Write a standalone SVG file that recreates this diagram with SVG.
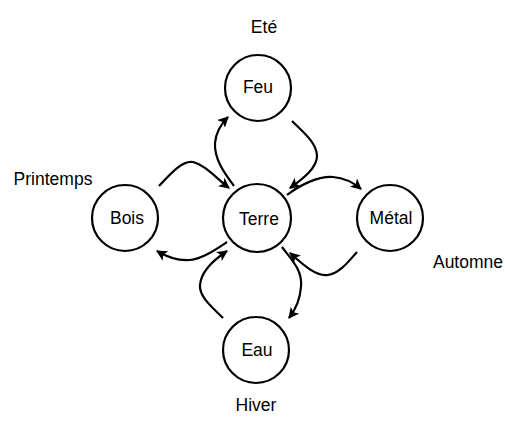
<svg xmlns="http://www.w3.org/2000/svg" width="505" height="427" viewBox="0 0 505 427">
<style>
  .node circle { fill: #fff; stroke: #000; stroke-width: 2.2; }
  text { font-family: "Liberation Sans", Arial, sans-serif; font-size: 17.5px; fill: #000; text-anchor: middle; }
  .edges path { fill: none; stroke: #000; stroke-width: 2.2; marker-end: url(#arrow); }
</style>
<defs>
  <marker id="arrow" viewBox="0 0 10 10" refX="9" refY="5" markerWidth="5" markerHeight="5" orient="auto" markerUnits="strokeWidth">
    <path d="M0,0 L10,5 L0,10 L2.5,5 z" fill="#000"/>
  </marker>
</defs>
<rect width="505" height="427" fill="#fff"/>
<g id="season-labels">
  <text x="264" y="33">Eté</text>
  <text x="53" y="185">Printemps</text>
  <text x="468" y="268">Automne</text>
  <text x="256" y="411">Hiver</text>
</g>
<g id="feu" class="node"><circle cx="258" cy="88" r="33"/><text x="258" y="93">Feu</text></g>
<g id="bois" class="node"><circle cx="125" cy="218" r="33"/><text x="127" y="224">Bois</text></g>
<g id="terre" class="node"><circle cx="257" cy="218" r="34"/><text x="259" y="225">Terre</text></g>
<g id="metal" class="node"><circle cx="390" cy="218" r="33"/><text x="391" y="224">Métal</text></g>
<g id="eau" class="node"><circle cx="256" cy="350" r="33"/><text x="257" y="356">Eau</text></g>
<g id="connectors" class="edges">
  <path d="M159,186 C172,172 183,160 193,162 C205,165 216,178 229,188"/>
  <path d="M234,186 C226,175 214,160 215,143 C216,132 221,124 228,117"/>
  <path d="M292,121 C302,131 316,142 317,155 C318,168 301,180 290,188"/>
  <path d="M287,195 C300,185 318,176 333,177 C345,178 354,183 361,189"/>
  <path d="M357,252 C348,262 340,273 328,275 C316,277 301,263 290,253"/>
  <path d="M282,247 C290,258 303,270 301,287 C300,300 296,309 289,318"/>
  <path d="M223,318 C213,308 199,297 200,285 C201,271 215,259 227,251"/>
  <path d="M227,242 C215,250 202,259 190,260 C178,261 167,257 157,251"/>
</g>
</svg>
